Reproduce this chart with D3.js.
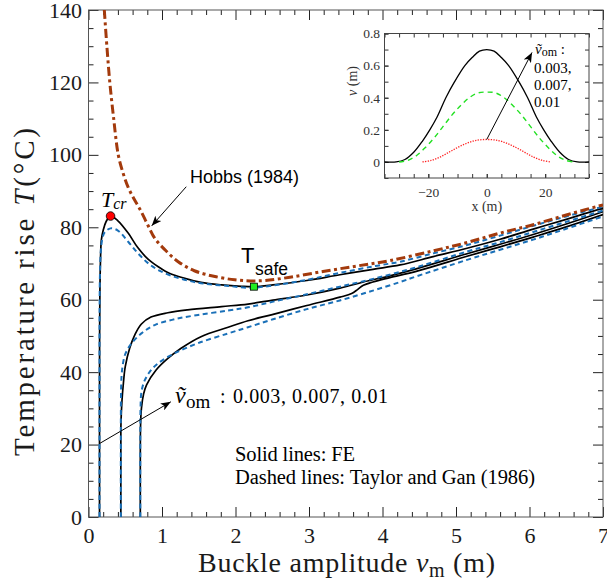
<!DOCTYPE html>
<html>
<head>
<meta charset="utf-8">
<script src="https://cdn.jsdelivr.net/npm/d3@7"></script>
<style>
  body { margin: 0; background: #fff; }
</style>
</head>
<body>
<svg id="chart" width="607" height="582"></svg>
<script>
const width = 607;
const height = 582;
const serif = "Liberation Serif, Times New Roman, serif";
const sans = "Liberation Sans, Arial, sans-serif";

// tick values
const xTicks = [0, 1, 2, 3, 4, 5, 6, 7];
const yTicks = [0, 20, 40, 60, 80, 100, 120, 140];
const insetXTicks = [-20, 0, 20];
const insetYTicks = [0, 0.2, 0.4, 0.6, 0.8];

// main curves: [buckle amplitude (m), temperature rise (C)]
const hobbs = [[0.215,140],[0.25,130],[0.29,120],[0.34,110.5],[0.405,100],[0.47,95],[0.54,91],[0.62,87.8],[0.70,85],
  [0.81,80.5],[0.90,77],[1.04,73.8],[1.22,70.5],[1.44,68],[1.72,66.4],[1.99,65.5],[2.2,65.2],[2.4,65.3],[2.74,66.2],
  [3.19,67.8],[3.65,69.3],[4.1,70.8],[4.69,73.5],[5.15,75.8],[5.6,78.4],[6.05,80.7],[6.5,83.4],[7.0,86.2]];

const fe003 = [[0.15,0],[0.15,30],[0.151,50],[0.155,62],[0.162,70],[0.175,76.5],[0.2,79.2],[0.24,81.6],[0.30,83.1],
  [0.40,81.8],[0.54,78.4],[0.67,74.4],[0.81,71.2],[0.95,69.1],[1.10,67.3],[1.31,65.9],[1.53,64.8],[1.81,64.1],[2.08,63.7],
  [2.25,63.6],[2.51,64.1],[2.97,65.3],[3.42,66.9],[3.87,68.4],[4.24,69.6],[4.69,71.9],[5.15,74.2],[5.6,76.7],[6.05,79.5],
  [6.5,82.2],[7,85.3]];
const fe007 = [[0.44,0],[0.44,18],[0.442,26],[0.455,32],[0.475,37],[0.5,41.5],[0.56,46.6],[0.63,50.3],[0.72,53.3],
  [0.85,55.2],[1.08,56.4],[1.35,57.2],[1.81,58.1],[2.17,58.8],[2.51,59.9],[2.97,61.3],[3.42,63.2],[3.74,64.9],[4.1,66.6],
  [4.47,68.6],[5.15,72.7],[5.6,75.3],[6.05,78],[6.5,80.9],[7,84.3]];
const fe01 = [[0.705,0],[0.705,18],[0.708,25],[0.72,30],[0.75,34],[0.79,36.5],[0.92,40.6],[1.08,43.8],[1.26,46.6],
  [1.53,49.8],[1.9,52.4],[2.17,54.2],[2.5,55.9],[2.97,58.4],[3.42,60.7],[3.58,61.7],[3.66,62.8],[3.74,64],[3.87,64.9],
  [4.1,66.1],[4.47,67.9],[5.15,72],[5.6,74.6],[6.05,77.3],[6.5,80.1],[7,83.5]];

const tg003 = [[0.15,0],[0.15,40],[0.151,58],[0.156,67],[0.168,73.5],[0.19,77],[0.22,78.6],[0.30,79.7],[0.40,79.1],
  [0.54,76],[0.67,72.9],[0.81,70.1],[0.95,68.2],[1.13,66.6],[1.35,65.3],[1.58,64.4],[1.9,63.8],[2.21,63.3],[2.5,63.9],
  [3.0,65.6],[3.42,67.4],[3.9,69.3],[4.24,70.5],[4.69,72.8],[5.15,75.1],[5.6,77.7],[6.05,80.4],[6.5,83],[7,85.7]];
const tg007 = [[0.44,0],[0.44,25],[0.442,33],[0.45,39],[0.47,42.5],[0.5,45],[0.58,47.8],[0.72,50.7],[0.90,53],
  [1.17,54.6],[1.49,55.8],[1.9,57],[2.17,57.9],[2.5,59.4],[2.97,61.5],[3.42,63.6],[3.9,65.9],[4.47,69],[5.15,73.3],
  [5.6,75.9],[6.05,78.7],[6.5,81.5],[7,84.6]];
const tg01 = [[0.705,0],[0.705,24],[0.708,30],[0.72,34.5],[0.76,37.5],[0.83,40],[0.95,42.5],[1.17,45.2],[1.49,48],
  [1.9,50.7],[2.17,52.4],[2.51,54.6],[2.97,57.4],[3.42,59.8],[3.87,62.5],[4.24,64.9],[4.47,66.5],[5.15,71],[5.6,73.8],
  [6.05,76.6],[6.5,79.6],[7,83]];

const tcrPoint = [0.30, 83.1];
const tsafePoint = [2.25, 63.6];

// inset buckle shapes: [x (m), v (m)]
const shape01 = [[-35,0],[-31,0],[-28,0.015],[-25,0.06],[-22,0.13],[-19.5,0.2],[-17,0.28],[-14,0.4],[-11,0.5],[-7.5,0.6],
  [-5,0.65],[-2.5,0.69],[0,0.7],[2.5,0.69],[5,0.65],[7.5,0.6],[11,0.5],[14,0.4],[17,0.28],[19.5,0.2],[22,0.13],[25,0.06],
  [28,0.015],[31,0],[35,0]];
const shape007 = [[-30,0],[-27,0.01],[-24,0.04],[-21,0.09],[-18,0.15],[-15,0.22],[-12,0.29],[-9,0.35],[-6,0.40],
  [-3,0.43],[0,0.435],[3,0.43],[6,0.40],[9,0.35],[12,0.29],[15,0.22],[18,0.15],[21,0.09],[24,0.04],[27,0.01],[30,0]];
const shape003 = [[-22,0],[-19,0.01],[-16,0.03],[-13,0.06],[-10,0.09],[-7,0.115],[-4,0.133],[0,0.14],[4,0.133],
  [7,0.115],[10,0.09],[13,0.06],[16,0.03],[19,0.01],[22,0]];

const svg = d3.select("#chart");

const x = d3.scaleLinear().domain([0, 7]).range([88.5, 603]);
const y = d3.scaleLinear().domain([0, 140]).range([517, 10]);

const defs = svg.append("defs");
defs.append("clipPath").attr("id", "plotClip")
  .append("rect").attr("x", 88.5).attr("y", 10).attr("width", 603 - 88.5).attr("height", 507);
defs.append("marker")
  .attr("id", "arrow")
  .attr("viewBox", "0 0 10 8")
  .attr("refX", 10).attr("refY", 4)
  .attr("markerWidth", 11).attr("markerHeight", 8)
  .attr("markerUnits", "userSpaceOnUse")
  .attr("orient", "auto")
  .append("path").attr("d", "M0,0 L10,4 L0,8 L2.5,4 z").attr("fill", "#000");

// axes with inward ticks on all four sides
function styleAxis(g) {
  g.select(".domain").remove();
  g.selectAll(".tick line").attr("stroke", "#222");
  g.selectAll("text").attr("font-family", serif).attr("font-size", 22).attr("fill", "#1a1a1a");
}
const xMinor = d3.range(0, 7.001, 0.2).filter(v => Math.abs(v - Math.round(v)) > 1e-6);
const yMinor = d3.range(0, 140.001, 5).filter(v => v % 20 !== 0);

svg.append("g").attr("transform", "translate(0,517)")
  .call(d3.axisBottom(x).tickValues(xTicks).tickSize(-10).tickPadding(10).tickFormat(d3.format("d")))
  .call(styleAxis);
svg.append("g").attr("transform", "translate(0,517)")
  .call(d3.axisBottom(x).tickValues(xMinor).tickSize(-5).tickFormat(""))
  .call(styleAxis);
svg.append("g").attr("transform", "translate(0,10)")
  .call(d3.axisTop(x).tickValues(xTicks).tickSize(-10).tickFormat(""))
  .call(styleAxis);
svg.append("g").attr("transform", "translate(0,10)")
  .call(d3.axisTop(x).tickValues(xMinor).tickSize(-5).tickFormat(""))
  .call(styleAxis);
svg.append("g").attr("transform", "translate(88.5,0)")
  .call(d3.axisLeft(y).tickValues(yTicks).tickSize(-10).tickPadding(6.5).tickFormat(d3.format("d")))
  .call(styleAxis);
svg.append("g").attr("transform", "translate(88.5,0)")
  .call(d3.axisLeft(y).tickValues(yMinor).tickSize(-5).tickFormat(""))
  .call(styleAxis);
svg.append("g").attr("transform", "translate(603,0)")
  .call(d3.axisRight(y).tickValues(yTicks).tickSize(-10).tickFormat(""))
  .call(styleAxis);
svg.append("g").attr("transform", "translate(603,0)")
  .call(d3.axisRight(y).tickValues(yMinor).tickSize(-5).tickFormat(""))
  .call(styleAxis);

svg.append("rect")
  .attr("x", 88.5).attr("y", 10).attr("width", 603 - 88.5).attr("height", 507)
  .attr("fill", "none").attr("stroke", "#555").attr("stroke-width", 1);

// curves
const line = d3.line()
  .x(d => x(d[0]))
  .y(d => y(d[1]))
  .curve(d3.curveCatmullRom.alpha(0.5));

const plot = svg.append("g").attr("clip-path", "url(#plotClip)");

[fe003, fe007, fe01].forEach(curve => {
  plot.append("path").datum(curve)
    .attr("d", line)
    .attr("fill", "none").attr("stroke", "#000").attr("stroke-width", 1.7);
});
[tg003, tg007, tg01].forEach(curve => {
  plot.append("path").datum(curve)
    .attr("d", line)
    .attr("fill", "none").attr("stroke", "#1a70b8").attr("stroke-width", 2)
    .attr("stroke-dasharray", "5,3.5");
});
plot.append("path").datum(hobbs)
  .attr("d", line)
  .attr("fill", "none").attr("stroke", "#a33a0c").attr("stroke-width", 3)
  .attr("stroke-dasharray", "9,3.5,3,3.5");

// markers
svg.append("circle")
  .attr("cx", x(tcrPoint[0])).attr("cy", y(tcrPoint[1])).attr("r", 4.3)
  .attr("fill", "#ff0000").attr("stroke", "#000").attr("stroke-width", 0.8);
svg.append("rect")
  .attr("x", x(tsafePoint[0]) - 3.5).attr("y", y(tsafePoint[1]) - 3.5)
  .attr("width", 7).attr("height", 7)
  .attr("fill", "#22ee22").attr("stroke", "#000").attr("stroke-width", 0.8);

// annotations
svg.append("line")
  .attr("x1", x(1.33)).attr("y1", y(91.2)).attr("x2", x(0.86)).attr("y2", y(80.4))
  .attr("stroke", "#000").attr("stroke-width", 1).attr("marker-end", "url(#arrow)");
svg.append("text").attr("x", 190).attr("y", 183)
  .attr("font-family", sans).attr("font-size", 18).text("Hobbs (1984)");

const tcrLabel = svg.append("text").attr("x", 101).attr("y", 207)
  .attr("font-family", serif).attr("font-style", "italic").attr("font-size", 22);
tcrLabel.append("tspan").text("T");
tcrLabel.append("tspan").attr("font-size", 16).attr("dy", 2).text("cr");

svg.append("text").attr("x", 241).attr("y", 263)
  .attr("font-family", sans).attr("font-size", 22).text("T");
svg.append("text").attr("x", 255).attr("y", 275)
  .attr("font-family", sans).attr("font-size", 17.5).text("safe");

svg.append("line")
  .attr("x1", x(0.143)).attr("y1", y(20.2)).attr("x2", x(1.12)).attr("y2", y(31.8))
  .attr("stroke", "#000").attr("stroke-width", 1).attr("marker-end", "url(#arrow)");
svg.append("text").attr("x", 175).attr("y", 403)
  .attr("font-family", serif).attr("font-style", "italic").attr("font-size", 24).text("\u1E7D");
svg.append("text").attr("x", 186).attr("y", 408)
  .attr("font-family", serif).attr("font-size", 19).text("om");
svg.append("text").attr("x", 220).attr("y", 403)
  .attr("font-family", serif).attr("font-size", 20).text(":");
svg.append("text").attr("x", 233).attr("y", 403)
  .attr("font-family", serif).attr("font-size", 20)
  .attr("textLength", 155).attr("lengthAdjust", "spacing")
  .text("0.003, 0.007, 0.01");

svg.append("text").attr("x", 235).attr("y", 461)
  .attr("font-family", serif).attr("font-size", 20.5)
  .attr("textLength", 120).attr("lengthAdjust", "spacing")
  .text("Solid lines: FE");
svg.append("text").attr("x", 235).attr("y", 484)
  .attr("font-family", serif).attr("font-size", 20.5)
  .attr("textLength", 300).attr("lengthAdjust", "spacing")
  .text("Dashed lines: Taylor and Gan (1986)");

// axis titles
const xTitle = svg.append("text").attr("x", 198).attr("y", 572)
  .attr("font-family", serif).attr("font-size", 28).attr("fill", "#1a1a1a")
  .attr("textLength", 297).attr("lengthAdjust", "spacing");
xTitle.append("tspan").text("Buckle amplitude ");
xTitle.append("tspan").attr("font-style", "italic").text("v");
xTitle.append("tspan").attr("font-size", 20).attr("dy", 5).text("m");
xTitle.append("tspan").attr("dy", -5).text(" (m)");

const yTitle = svg.append("text")
  .attr("transform", "translate(34,456) rotate(-90)")
  .attr("font-family", serif).attr("font-size", 29).attr("fill", "#1a1a1a")
  .attr("textLength", 328).attr("lengthAdjust", "spacing");
yTitle.append("tspan").text("Temperature rise ");
yTitle.append("tspan").attr("font-style", "italic").text("T");
yTitle.append("tspan").text("(\u00B0C)");

// inset
const ix = d3.scaleLinear().domain([-35, 35]).range([384.5, 589]);
const iy = d3.scaleLinear().domain([-0.1, 0.8]).range([178, 33.5]);

const inset = svg.append("g");
inset.append("rect")
  .attr("x", 384.5).attr("y", 33.5).attr("width", 589 - 384.5).attr("height", 178 - 33.5)
  .attr("fill", "#fff");

function styleInset(g) {
  g.select(".domain").remove();
  g.selectAll(".tick line").attr("stroke", "#333");
  g.selectAll("text").attr("font-family", serif).attr("font-size", 13.5).attr("fill", "#333");
}
const insetXMinor = d3.range(-35, 35.001, 5);
const insetYMinor = d3.range(-0.1, 0.8001, 0.1);

inset.append("g").attr("transform", "translate(0,178)")
  .call(d3.axisBottom(ix).tickValues(insetXMinor).tickSize(-4).tickFormat(""))
  .call(styleInset);
inset.append("g").attr("transform", "translate(0,178)")
  .call(d3.axisBottom(ix).tickValues(insetXTicks).tickSize(-4).tickPadding(9.5).tickFormat(d3.format("d")))
  .call(styleInset);
inset.append("g").attr("transform", "translate(0,33.5)")
  .call(d3.axisTop(ix).tickValues(insetXMinor).tickSize(-4).tickFormat(""))
  .call(styleInset);
inset.append("g").attr("transform", "translate(384.5,0)")
  .call(d3.axisLeft(iy).tickValues(insetYMinor).tickSize(-4).tickFormat(""))
  .call(styleInset);
inset.append("g").attr("transform", "translate(384.5,0)")
  .call(d3.axisLeft(iy).tickValues(insetYTicks).tickSize(-4).tickPadding(4.5).tickFormat(d => d === 0 ? "0" : d3.format(".1f")(d)))
  .call(styleInset);
inset.append("g").attr("transform", "translate(589,0)")
  .call(d3.axisRight(iy).tickValues(insetYMinor).tickSize(-4).tickFormat(""))
  .call(styleInset);
inset.append("rect")
  .attr("x", 384.5).attr("y", 33.5).attr("width", 589 - 384.5).attr("height", 178 - 33.5)
  .attr("fill", "none").attr("stroke", "#444").attr("stroke-width", 1);

const insetLine = d3.line()
  .x(d => ix(d[0]))
  .y(d => iy(d[1]))
  .curve(d3.curveCatmullRom.alpha(0.5));

inset.append("path").datum(shape01).attr("d", insetLine)
  .attr("fill", "none").attr("stroke", "#000").attr("stroke-width", 1.3);
inset.append("path").datum(shape007).attr("d", insetLine)
  .attr("fill", "none").attr("stroke", "#22e022").attr("stroke-width", 1.4).attr("stroke-dasharray", "5,4");
inset.append("path").datum(shape003).attr("d", insetLine)
  .attr("fill", "none").attr("stroke", "#ff2020").attr("stroke-width", 1.3).attr("stroke-dasharray", "1.3,1.3");

inset.append("line")
  .attr("x1", ix(0)).attr("y1", iy(0.14)).attr("x2", ix(15.5)).attr("y2", iy(0.682))
  .attr("stroke", "#000").attr("stroke-width", 1).attr("marker-end", "url(#arrow)");

const vomLabel = inset.append("text").attr("x", 535).attr("y", 54)
  .attr("font-family", serif).attr("font-size", 15);
vomLabel.append("tspan").attr("font-style", "italic").text("\u1E7D");
vomLabel.append("tspan").attr("font-size", 12).attr("dy", 2).text("om");
vomLabel.append("tspan").attr("dy", -2).text(" :");
inset.selectAll(".vomValue").data(["0.003,", "0.007,", "0.01"]).enter()
  .append("text")
  .attr("class", "vomValue")
  .attr("x", 534)
  .attr("y", (d, i) => 73 + i * 17)
  .attr("font-family", serif).attr("font-size", 15)
  .text(d => d);

inset.append("text").attr("x", ix(0)).attr("y", 211)
  .attr("text-anchor", "middle")
  .attr("font-family", serif).attr("font-size", 14).attr("fill", "#333")
  .text("x (m)");
const vTitle = inset.append("text")
  .attr("transform", "translate(357,81) rotate(-90)")
  .attr("text-anchor", "middle")
  .attr("font-family", serif).attr("font-size", 14).attr("fill", "#333");
vTitle.append("tspan").attr("font-style", "italic").text("v");
vTitle.append("tspan").text(" (m)");
</script>
</body>
</html>
